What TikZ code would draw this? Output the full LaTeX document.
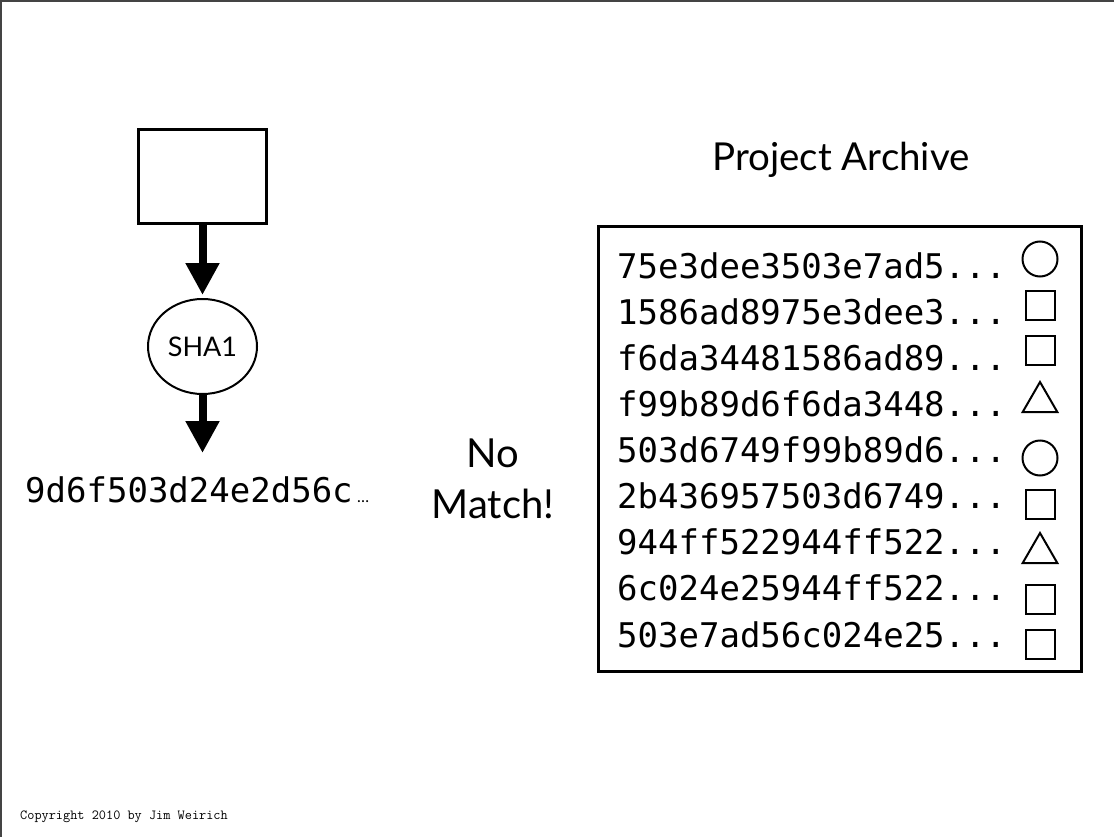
\documentclass[tikz,border=0pt]{standalone}
\usepackage{fontspec}
\setmainfont{Lato}
\newfontfamily\hashfont{DejaVu Sans Mono}
\usetikzlibrary{arrows.meta,shapes.geometric}
\definecolor{framegray}{HTML}{444444}
\tikzset{
  frameline/.style={draw=framegray, line width=1.5pt},
  bigarrow/.style={line width=8pt, -{Triangle[width=32pt,length=32pt]}},
  hashtext/.style={anchor=base west, inner sep=0pt, font=\hashfont\fontsize{34}{34}\selectfont},
  symcircle/.style={circle, draw, line width=2pt, minimum size=35pt, inner sep=0pt},
  symsquare/.style={rectangle, draw, line width=2pt, minimum size=29pt, inner sep=0pt},
  symtri/.style={regular polygon, regular polygon sides=3, draw, line width=2pt, minimum size=40pt, inner sep=0pt},
  bigtext/.style={inner sep=0pt, font=\fontsize{40}{40}\selectfont},
}
\begin{document}
\begin{tikzpicture}[x=1pt,y=-1pt]
\useasboundingbox (0,0) rectangle (1115,837);
\draw[frameline] (1114,1) -- (1,1) -- (1,837);

% left chain
\node[draw, line width=2.6pt, minimum width=128pt, minimum height=94pt, inner sep=0pt] (src) at (202.5,176.5) {};
\node[ellipse, draw, line width=2pt, minimum width=109pt, minimum height=95pt, inner sep=0pt,
      font=\fontsize{27}{27}\selectfont] (sha) at (202.5,346.5) {SHA1};
\coordinate (hashtop) at (202.5,453);
\draw[bigarrow, shorten >=3pt] (src.south) -- (sha.north);
\draw[bigarrow] (sha.south) -- (hashtop);
\node[hashtext] (hash) at (25,502) {9d6f503d24e2d56c};
\node[anchor=base west, inner sep=0pt, font=\fontsize{16}{16}\selectfont] (dots) at ([xshift=4pt]hash.base east) {…};

% no match
\node[bigtext, anchor=base] (no) at (493,467) {No};
\node[bigtext, anchor=base] (match) at (493,518) {Match!};

% archive
\node[inner sep=0pt, font=\fontsize{38.5}{38.5}\selectfont, anchor=base] (title) at (841,171) {Project Archive};
\node[draw, line width=2.7pt, minimum width=483pt, minimum height=445pt, inner sep=0pt] (archive) at (840,449) {};

\node[hashtext] (h1) at (617,278) {75e3dee3503e7ad5...};
\node[hashtext] (h2) at (617,324.1) {1586ad8975e3dee3...};
\node[hashtext] (h3) at (617,370.2) {f6da34481586ad89...};
\node[hashtext] (h4) at (617,416.4) {f99b89d6f6da3448...};
\node[hashtext] (h5) at (617,462.5) {503d6749f99b89d6...};
\node[hashtext] (h6) at (617,508.6) {2b436957503d6749...};
\node[hashtext] (h7) at (617,554.8) {944ff522944ff522...};
\node[hashtext] (h8) at (617,600.9) {6c024e25944ff522...};
\node[hashtext] (h9) at (617,647) {503e7ad56c024e25...};

\node[symcircle] (s1) at (1040,259) {};
\node[symsquare] (s2) at (1040,305) {};
\node[symsquare] (s3) at (1040,350) {};
\node[symtri]    (s4) at (1040,402) {};
\node[symcircle] (s5) at (1040,458) {};
\node[symsquare] (s6) at (1040,504) {};
\node[symtri]    (s7) at (1040,553) {};
\node[symsquare] (s8) at (1040,599) {};
\node[symsquare] (s9) at (1040,644) {};

\node[anchor=base west, inner sep=0pt, font=\ttfamily\fontsize{13.9}{13.9}\selectfont] (copy) at (20,819) {Copyright 2010 by Jim Weirich};
\end{tikzpicture}
\end{document}
